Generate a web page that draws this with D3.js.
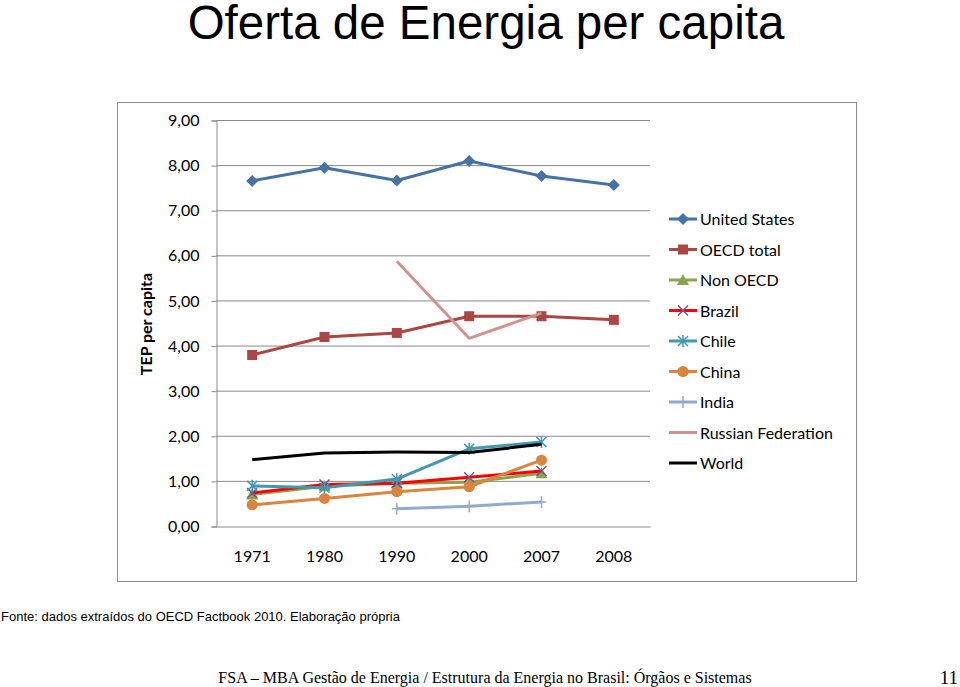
<!DOCTYPE html>
<html><head><meta charset="utf-8">
<script src="https://cdnjs.cloudflare.com/ajax/libs/d3/7.8.5/d3.min.js"></script>
<style>body{margin:0;background:#fff;}svg{display:block;}</style>
</head><body>
<script>
const years = ["1971","1980","1990","2000","2007","2008"];
const yTicks = [0,1,2,3,4,5,6,7,8,9];
const unitedStates = [7.65, 7.94, 7.66, 8.09, 7.76, 7.56];
const oecdTotal = [3.79, 4.19, 4.28, 4.65, 4.65, 4.57];
const nonOecd = [0.70, 0.88, 0.95, 0.97, 1.17, null];
const brazil = [0.73, 0.92, 0.95, 1.08, 1.22, null];
const chile = [0.89, 0.85, 1.04, 1.71, 1.86, null];
const china = [0.47, 0.61, 0.76, 0.87, 1.46, null];
const india = [null, null, 0.38, 0.44, 0.53, null];
const russia = [null, null, 5.87, 4.16, 4.72, null];
const world = [1.47, 1.62, 1.64, 1.63, 1.81, null];

const series = [
  {name:"United States", values:unitedStates, color:"#4572A7", marker:"diamond", mcolor:"#4572A7"},
  {name:"OECD total", values:oecdTotal, color:"#AA4643", marker:"square", mcolor:"#AA4643"},
  {name:"Non OECD", values:nonOecd, color:"#89A54E", marker:"triangle", mcolor:"#89A54E"},
  {name:"Brazil", values:brazil, color:"#FF0000", marker:"x", mcolor:"#71588F"},
  {name:"Chile", values:chile, color:"#4198AF", marker:"star", mcolor:"#4198AF"},
  {name:"China", values:china, color:"#DB843D", marker:"circle", mcolor:"#DB843D"},
  {name:"India", values:india, color:"#93A9CF", marker:"plus", mcolor:"#93A9CF"},
  {name:"Russian Federation", values:russia, color:"#D19392", marker:"none"},
  {name:"World", values:world, color:"#000000", marker:"none"}
];

const W=960,H=687;
const svg=d3.select("body").append("svg").attr("width",W).attr("height",H);

svg.append("text").attr("x",486).attr("y",39).attr("text-anchor","middle")
  .attr("font-family","Liberation Sans, Arial").attr("font-size",47.5).text("Oferta de Energia per capita");

svg.append("rect").attr("x",117.5).attr("y",102.5).attr("width",739).attr("height",479)
  .attr("fill","#fff").attr("stroke","#8c8c8c").attr("stroke-width",1);

const L=216,R=650,T=120,B=526;
const x=d3.scaleBand().domain(years).range([L,R]);
const y=d3.scaleLinear().domain([0,9]).range([B,T]);

// gridlines
svg.append("g").selectAll("line").data(yTicks.filter(d=>d>0)).join("line")
  .attr("x1",L).attr("x2",R).attr("y1",d=>y(d)+0.5).attr("y2",d=>y(d)+0.5)
  .attr("stroke","#8a8a8a").attr("stroke-width",1);

const yAxis=svg.append("g").attr("transform",`translate(${L+0.5},0.5)`)
  .call(d3.axisLeft(y).tickValues(yTicks).tickSize(5).tickPadding(12)
    .tickFormat(d=>d3.format(".2f")(d).replace(".",",")));
yAxis.select(".domain").attr("stroke","#8a8a8a");
yAxis.selectAll(".tick line").attr("stroke","#8a8a8a");
yAxis.selectAll("text").attr("font-family","Lato, Open Sans, sans-serif").attr("font-size",16).attr("fill","#000");

const xAxis=svg.append("g").attr("transform",`translate(0,${B+0.5})`)
  .call(d3.axisBottom(x).tickSize(0).tickPadding(24));
xAxis.select(".domain").attr("stroke","#8a8a8a");
xAxis.selectAll("text").attr("font-family","Lato, Open Sans, sans-serif").attr("font-size",16).attr("fill","#000");

svg.append("text").attr("transform","translate(152,324) rotate(-90)").attr("text-anchor","middle")
  .attr("font-family","Lato, Open Sans, sans-serif").attr("font-weight","bold").attr("font-size",16).text("TEP per capita");

function drawMarker(g,type,cx,cy,color){
  if(type==="diamond"){g.append("path").attr("d",`M${cx},${cy-6}L${cx+6},${cy}L${cx},${cy+6}L${cx-6},${cy}Z`).attr("fill",color);}
  else if(type==="square"){g.append("rect").attr("x",cx-5).attr("y",cy-5).attr("width",10).attr("height",10).attr("fill",color);}
  else if(type==="triangle"){g.append("path").attr("d",`M${cx},${cy-6}L${cx+6},${cy+5}L${cx-6},${cy+5}Z`).attr("fill",color);}
  else if(type==="circle"){g.append("circle").attr("cx",cx).attr("cy",cy).attr("r",5.5).attr("fill",color);}
  else if(type==="x"){g.append("path").attr("d",`M${cx-5},${cy-5}L${cx+5},${cy+5}M${cx-5},${cy+5}L${cx+5},${cy-5}`).attr("stroke",color).attr("stroke-width",1.5);}
  else if(type==="star"){g.append("path").attr("d",`M${cx-5},${cy-5}L${cx+5},${cy+5}M${cx-5},${cy+5}L${cx+5},${cy-5}M${cx},${cy-6}L${cx},${cy+6}`).attr("stroke",color).attr("stroke-width",1.5);}
  else if(type==="plus"){g.append("path").attr("d",`M${cx-5},${cy}L${cx+5},${cy}M${cx},${cy-6}L${cx},${cy+6}`).attr("stroke",color).attr("stroke-width",1.5);}
}

const line=d3.line().defined(d=>d.v!=null).x(d=>x(d.k)+x.bandwidth()/2).y(d=>y(d.v));
const plot=svg.append("g");
series.forEach(s=>{
  const pts=years.map((k,i)=>({k,v:s.values[i]}));
  const g=plot.append("g");
  g.append("path").datum(pts).attr("d",line).attr("fill","none").attr("stroke",s.color)
    .attr("stroke-width",3).attr("stroke-linejoin","round");
  pts.filter(d=>d.v!=null).forEach(d=>{
    drawMarker(g,s.marker,x(d.k)+x.bandwidth()/2,y(d.v),s.mcolor);
  });
});

// legend
const lg=svg.append("g");
series.forEach((s,i)=>{
  const yy=219+i*30.5;
  const g=lg.append("g");
  g.append("line").attr("x1",669).attr("x2",697).attr("y1",yy).attr("y2",yy).attr("stroke",s.color).attr("stroke-width",3);
  drawMarker(g,s.marker,683,yy,s.mcolor);
  g.append("text").attr("x",700).attr("y",yy+6).attr("font-family","Lato, Open Sans, sans-serif").attr("font-size",16).text(s.name);
});

svg.append("text").attr("x",1).attr("y",621).attr("font-family","Liberation Sans, Arial").attr("font-size",13).text("Fonte: dados extraídos do OECD Factbook 2010. Elaboração própria");
svg.append("text").attr("x",485).attr("y",683).attr("text-anchor","middle").attr("font-family","Liberation Serif, Times New Roman").attr("font-size",16).text("FSA – MBA Gestão de Energia / Estrutura da Energia no Brasil: Órgãos e Sistemas");
svg.append("text").attr("x",958).attr("y",684).attr("text-anchor","end").attr("font-family","Liberation Serif, Times New Roman").attr("font-size",19).text("11");
</script>
</body></html>
